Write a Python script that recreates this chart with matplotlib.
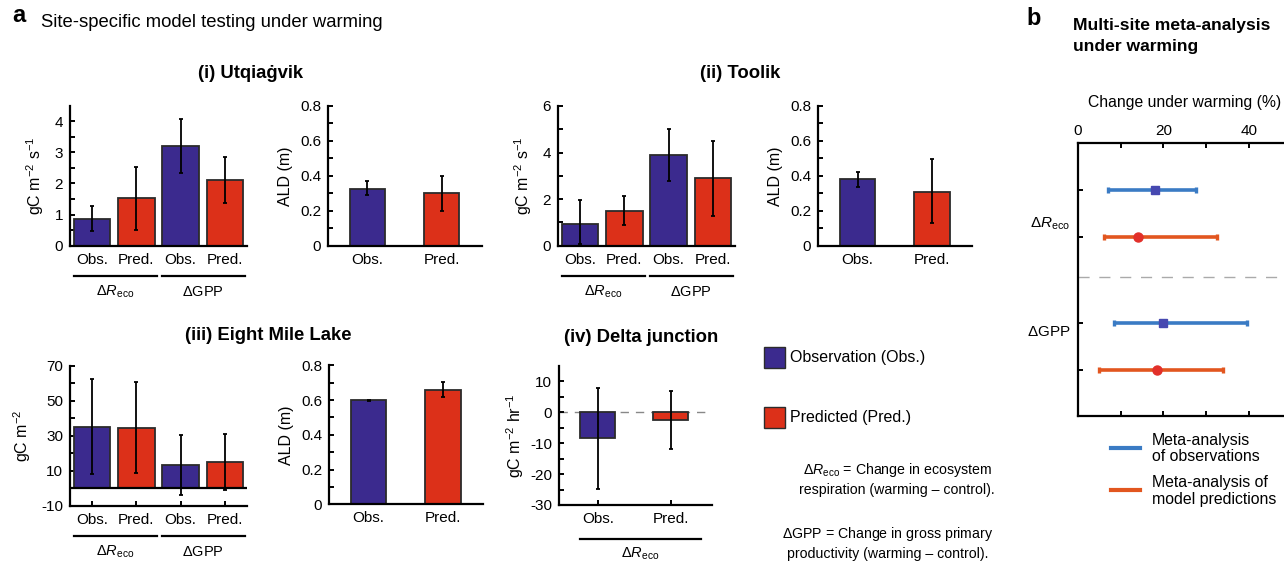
import matplotlib
matplotlib.use('Agg')
import matplotlib.pyplot as plt
import matplotlib.transforms as mtransforms
from matplotlib.patches import Rectangle
from matplotlib.lines import Line2D
import numpy as np

plt.rcParams['font.family'] = ['Liberation Sans', 'DejaVu Sans']
plt.rcParams['mathtext.fontset'] = 'custom'
plt.rcParams['mathtext.rm'] = 'Liberation Sans'
plt.rcParams['mathtext.it'] = 'Liberation Sans:italic'
plt.rcParams['mathtext.bf'] = 'Liberation Sans:bold'
plt.rcParams['axes.unicode_minus'] = False

# ---------------- data ----------------
bar_labels = ['Obs.', 'Pred.', 'Obs.', 'Pred.']
ald_labels = ['Obs.', 'Pred.']

utq_flux = [0.87, 1.52, 3.22, 2.12]
utq_flux_lo = [0.46, 0.51, 2.35, 1.38]
utq_flux_hi = [1.28, 2.53, 4.08, 2.84]
utq_ald = [0.326, 0.30]
utq_ald_lo = [0.288, 0.199]
utq_ald_hi = [0.372, 0.40]

tool_flux = [0.95, 1.50, 3.90, 2.90]
tool_flux_lo = [0.06, 0.89, 2.80, 1.29]
tool_flux_hi = [1.96, 2.13, 5.00, 4.50]
tool_ald = [0.384, 0.309]
tool_ald_lo = [0.338, 0.128]
tool_ald_hi = [0.422, 0.495]

eml_flux = [35.0, 34.6, 13.4, 15.1]
eml_flux_lo = [7.9, 8.7, -3.7, -1.0]
eml_flux_hi = [62.2, 60.5, 30.2, 31.1]
eml_ald = [0.600, 0.658]
eml_ald_lo = [0.597, 0.616]
eml_ald_hi = [0.603, 0.702]

dj_flux = [-8.3, -2.5]
dj_flux_lo = [-24.9, -11.9]
dj_flux_hi = [8.0, 7.0]

# meta-analysis (%): obs Reco, pred Reco, obs GPP, pred GPP
meta_mean = [18.0, 14.1, 20.0, 18.4]
meta_lo = [7.0, 6.1, 8.4, 4.9]
meta_hi = [27.6, 32.4, 39.5, 33.8]

OBS = '#3b2a8e'
PRED = '#dc3019'
EDGE = '#2b2b2b'
BLUE = '#3a7bc4'
ORANGE = '#e2561f'

FS = 11        # tick labels
FL = 11.5      # axis labels

W, H = 1284, 562
fig = plt.figure(figsize=(W / 100, H / 100), dpi=100)


def rect(x0, x1, ytop, ybot):
    return [x0 / W, 1 - ybot / H, (x1 - x0) / W, (ybot - ytop) / H]


def style(ax):
    for s in ['top', 'right']:
        ax.spines[s].set_visible(False)
    for s in ['left', 'bottom']:
        ax.spines[s].set_linewidth(1.6)
    ax.tick_params(axis='y', which='both', direction='in', length=3.5, width=1.4,
                   labelsize=FS, pad=5)
    ax.tick_params(axis='x', which='both', direction='in', length=3.5, width=1.4,
                   labelsize=FS, pad=5)


def bars(ax, vals, lo, hi, colors):
    x = np.arange(1, len(vals) + 1)
    v = np.array(vals)
    err = [v - np.array(lo), np.array(hi) - v]
    ax.bar(x, v, width=0.82 if len(vals) == 4 else 0.48, color=colors,
           edgecolor=EDGE, linewidth=1.3, zorder=2)
    ax.errorbar(x, v, yerr=err, fmt='none', ecolor='black', elinewidth=1.3,
                capsize=1.2, capthick=1.3, zorder=3)
    return x


def group_lines(ax, spans, labels, yline, ylab):
    tr = mtransforms.blended_transform_factory(ax.transData, ax.transAxes)
    for (a, b), lab in zip(spans, labels):
        ax.plot([a, b], [yline, yline], color='black', lw=1.6, transform=tr,
                clip_on=False)
        ax.text((a + b) / 2, ylab, lab, transform=tr, ha='center', va='center',
                fontsize=10.5)


def ald_axis(ax, vals, lo, hi):
    x = bars(ax, vals, lo, hi, [OBS, PRED])
    ax.set_xlim(0.47, 2.54)
    ax.set_ylim(0, 0.8)
    ax.set_yticks([0, 0.2, 0.4, 0.6, 0.8], ['0', '0.2', '0.4', '0.6', '0.8'])
    ax.set_yticks([0.1, 0.3, 0.5, 0.7], minor=True)
    ax.set_xticks(x, ald_labels)
    ax.tick_params(axis='x', length=0)
    ax.set_ylabel('ALD (m)', fontsize=FL, labelpad=5)


reco = r'$\Delta R_{\mathrm{eco}}$'
gpp = r'$\Delta$GPP'
cols4 = [OBS, PRED, OBS, PRED]

# (i) Utqiagvik flux
ax = fig.add_axes(rect(70, 247, 105.7, 245.7))
style(ax)
x = bars(ax, utq_flux, utq_flux_lo, utq_flux_hi, cols4)
ax.set_xlim(0.5, 4.5)
ax.set_ylim(0, 4.5)
ax.set_yticks([0, 1, 2, 3, 4])
ax.set_yticks(np.arange(0.5, 4.5, 1), minor=True)
ax.set_xticks(x, bar_labels)
ax.tick_params(axis='x', length=0)
ax.set_ylabel('gC m$^{-2}$ s$^{-1}$', fontsize=FL, labelpad=6)
group_lines(ax, [(0.59, 2.47), (2.58, 4.45)], [reco, gpp], -0.214, -0.33)

# (i) ALD
ax = fig.add_axes(rect(328, 481.7, 106, 245.7))
style(ax)
ald_axis(ax, utq_ald, utq_ald_lo, utq_ald_hi)

# (ii) Toolik flux
ax = fig.add_axes(rect(558, 735, 106, 245.7))
style(ax)
x = bars(ax, tool_flux, tool_flux_lo, tool_flux_hi, cols4)
ax.set_xlim(0.5, 4.5)
ax.set_ylim(0, 6)
ax.set_yticks([0, 2, 4, 6])
ax.set_yticks([1, 3, 5], minor=True)
ax.set_xticks(x, bar_labels)
ax.tick_params(axis='x', length=0)
ax.set_ylabel('gC m$^{-2}$ s$^{-1}$', fontsize=FL, labelpad=6)
group_lines(ax, [(0.59, 2.47), (2.58, 4.45)], [reco, gpp], -0.214, -0.33)

# (ii) ALD
ax = fig.add_axes(rect(818.3, 972, 106, 245.7))
style(ax)
ald_axis(ax, tool_ald, tool_ald_lo, tool_ald_hi)

# (iii) Eight Mile Lake flux
ax = fig.add_axes(rect(70, 247, 365.7, 505.7))
style(ax)
x = bars(ax, eml_flux, eml_flux_lo, eml_flux_hi, cols4)
ax.axhline(0, color='black', lw=1.6, zorder=2.5)
ax.set_xlim(0.5, 4.5)
ax.set_ylim(-10, 70)
ax.set_yticks([-10, 10, 30, 50, 70])
ax.set_yticks([0, 20, 40, 60], minor=True)
ax.set_xticks(x, bar_labels)
ax.set_ylabel('gC m$^{-2}$', fontsize=FL, labelpad=6)
group_lines(ax, [(0.59, 2.47), (2.58, 4.45)], [reco, gpp], -0.214, -0.33)

# (iii) ALD
ax = fig.add_axes(rect(329.3, 483, 365.3, 504.3))
style(ax)
ald_axis(ax, eml_ald, eml_ald_lo, eml_ald_hi)

# (iv) Delta junction
ax = fig.add_axes(rect(559.3, 711.7, 366, 505))
style(ax)
x = bars(ax, dj_flux, dj_flux_lo, dj_flux_hi, [OBS, PRED])
ax.axhline(0, color='#888888', lw=1.0, dashes=(6, 5), zorder=1)
ax.set_xlim(0.47, 2.56)
ax.set_ylim(-30, 15)
ax.set_yticks([-30, -20, -10, 0, 10])
ax.set_yticks([-25, -15, -5, 5], minor=True)
ax.set_xticks(x, ald_labels)
ax.set_ylabel('gC m$^{-2}$ hr$^{-1}$', fontsize=FL, labelpad=3)
group_lines(ax, [(0.754, 2.41)], [reco], -0.245, -0.35)

# titles for panel a
fig.text(12 / W, 1 - 22 / H, 'a', fontsize=17, fontweight='bold', va='baseline')
fig.text(41 / W, 1 - 27 / H, 'Site-specific model testing under warming', fontsize=13.3,
         va='baseline')
for txt, xc, yc in [('(i) Utqiaġvik', 251, 73), ('(ii) Toolik', 740, 74),
                    ('(iii) Eight Mile Lake', 268, 335), ('(iv) Delta junction', 641, 337)]:
    fig.text(xc / W, 1 - yc / H, txt, fontsize=13.3, fontweight='bold',
             ha='center', va='center')

# legend for panel a
for yt, col, lab in [(347, OBS, 'Observation (Obs.)'), (407, PRED, 'Predicted (Pred.)')]:
    fig.add_artist(Rectangle((764 / W, 1 - (yt + 21) / H), 21 / W, 21 / H,
                             facecolor=col, edgecolor=EDGE, lw=1.0,
                             transform=fig.transFigure))
    fig.text(790 / W, 1 - (yt + 10.5) / H, lab, fontsize=11.5, va='center')

fig.text(897 / W, 1 - 479 / H,
         reco + ' = Change in ecosystem\nrespiration (warming – control).',
         fontsize=10.2, ha='center', va='center', multialignment='center',
         linespacing=1.35)
fig.text(888 / W, 1 - 543 / H,
         gpp + ' = Change in gross primary\nproductivity (warming – control).',
         fontsize=10.2, ha='center', va='center', multialignment='center',
         linespacing=1.35)

# ---------------- panel b ----------------
rows = [1.0, 2.0, 3.82, 4.82]
axb = fig.add_axes(rect(1077.7, 1292, 143.3, 415.7))
axb.spines['right'].set_visible(False)
for s in ['left', 'bottom', 'top']:
    axb.spines[s].set_linewidth(1.6)
axb.set_xlim(0, 50)
axb.set_ylim(5.8, 0)
axb.xaxis.set_ticks_position('both')
axb.xaxis.set_label_position('top')
axb.tick_params(axis='x', which='both', direction='in', length=3.5, width=1.4,
                labelsize=FS, pad=4, labeltop=True, labelbottom=False)
axb.set_xticks([0, 20, 40])
axb.set_xticks([10, 30], minor=True)
axb.set_yticks(rows, ['', '', '', ''])
axb.tick_params(axis='y', direction='in', length=3.5, width=1.4)
axb.set_xlabel('Change under warming (%)', fontsize=11.3, labelpad=12)

mm = np.array(meta_mean)
merr = [mm - np.array(meta_lo), np.array(meta_hi) - mm]
line_cols = [BLUE, ORANGE, BLUE, ORANGE]
mk = ['s', 'o', 's', 'o']
mk_cols = ['#4648b0', '#e2302a', '#4648b0', '#e2302a']
for i in range(4):
    axb.errorbar(mm[i], rows[i], xerr=[[merr[0][i]], [merr[1][i]]], fmt='none',
                 ecolor=line_cols[i], elinewidth=2.6, capsize=2.5, capthick=2.4,
                 zorder=2)
    axb.plot(mm[i], rows[i], marker=mk[i], color=mk_cols[i],
             markersize=5.5 if mk[i] == 's' else 6.5, zorder=3)
axb.axhline(2.84, color='#aaaaaa', lw=1.0, dashes=(8, 7), zorder=1)
tr = mtransforms.blended_transform_factory(axb.transAxes, axb.transData)
axb.text(-0.035, (224 - 143.3) / 47, reco, transform=tr, ha='right', va='center',
         fontsize=11)
axb.text(-0.035, (331.7 - 143.3) / 47, gpp, transform=tr, ha='right', va='center',
         fontsize=11)

fig.text(1026 / W, 1 - 25 / H, 'b', fontsize=17, fontweight='bold', va='baseline')
fig.text(1073 / W, 1 - 30 / H, 'Multi-site meta-analysis', fontsize=12.6,
         fontweight='bold', va='baseline')
fig.text(1073 / W, 1 - 51 / H, 'under warming', fontsize=12.6,
         fontweight='bold', va='baseline')

for yc, col, lab in [(447.7, BLUE, 'Meta-analysis\nof observations'),
                     (490, ORANGE, 'Meta-analysis of\nmodel predictions')]:
    fig.add_artist(Line2D([1110.7 / W, 1140 / W], [1 - yc / H, 1 - yc / H],
                          color=col, lw=3, transform=fig.transFigure))
    fig.text(1151.7 / W, 1 - (yc + 1) / H, lab, fontsize=11.4, va='center',
             linespacing=1.1)

fig.savefig('out.png', dpi=100)
